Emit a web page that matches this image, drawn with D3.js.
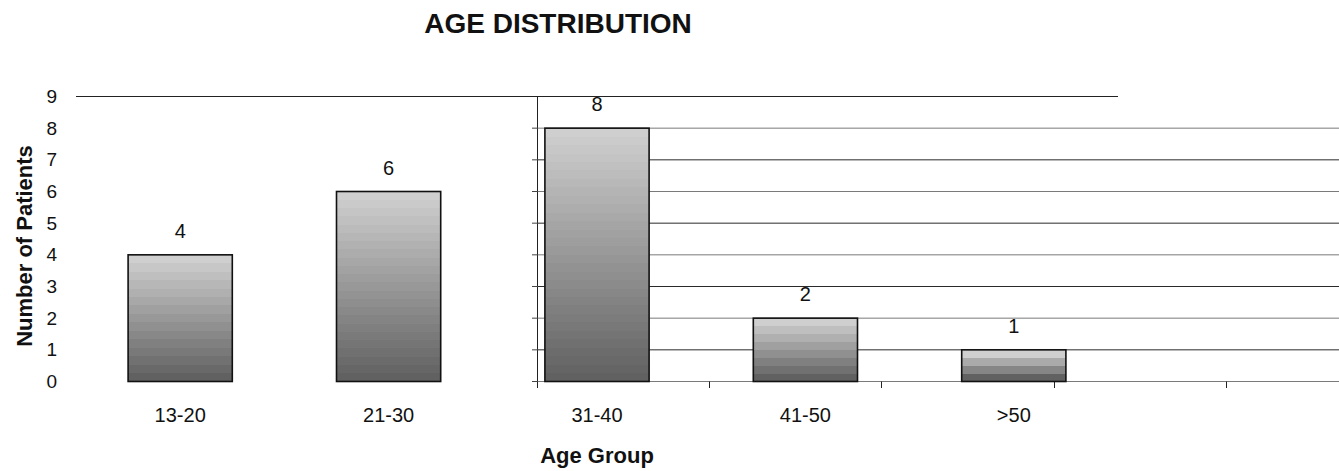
<!DOCTYPE html>
<html>
<head>
<meta charset="utf-8">
<script src="https://cdn.jsdelivr.net/npm/d3@7"></script>
<style>
  html, body { margin: 0; padding: 0; background: #fff; }
  svg { display: block; font-family: "Liberation Sans", Arial, Helvetica, sans-serif; }
</style>
</head>
<body>
<svg id="chart" width="1339" height="471"></svg>
<script>
// Age groups and patient counts
const categories = ["13-20", "21-30", "31-40", "41-50", ">50"];
const patients = [4, 6, 8, 2, 1];
const yTicks = [0, 1, 2, 3, 4, 5, 6, 7, 8, 9];
// Secondary value axis with its own category ticks
const gridValues = [0, 1, 2, 3, 4, 5, 6, 7, 8];
const gridSlots = [1, 2, 3, 4];

const W = 1339, H = 471;
const svg = d3.select("#chart");

const plot = { left: 76, right: 1118, top: 96.5, bottom: 381.5 };

const x = d3.scaleBand()
  .domain(categories)
  .range([plot.left, plot.right])
  .paddingInner(0.5)
  .paddingOuter(0.25);

const y = d3.scaleLinear()
  .domain([0, 9])
  .range([plot.bottom, plot.top]);

// Secondary axis: starts at the middle of the chart and runs to the edge
const gx0 = 538, gx1 = W;
const xs = d3.scaleLinear().domain([0, 4.652]).range([gx0, gx1]);

// Stepped grey gradient for each bar
const defs = svg.append("defs");
const shade = d3.interpolateRgb("#cfcfcf", "#616161");
patients.forEach((v, i) => {
  const h = y(0) - y(v);
  const n = Math.max(3, Math.round(h / 8.4));
  const g = defs.append("linearGradient")
    .attr("id", "barGrad" + i)
    .attr("x1", 0).attr("y1", 0).attr("x2", 0).attr("y2", 1);
  for (let k = 0; k < n; k++) {
    const c = shade(n === 1 ? 0 : k / (n - 1));
    g.append("stop").attr("offset", k / n).attr("stop-color", c);
    g.append("stop").attr("offset", (k + 1) / n).attr("stop-color", c);
  }
});

// Title
svg.append("text")
  .attr("x", 558).attr("y", 33)
  .attr("text-anchor", "middle")
  .attr("font-size", 28).attr("font-weight", "bold")
  .attr("fill", "#111")
  .text("AGE DISTRIBUTION");

// Top line of the plot area
svg.append("line")
  .attr("x1", plot.left).attr("x2", plot.right)
  .attr("y1", y(9)).attr("y2", y(9))
  .attr("stroke", "#222").attr("stroke-width", 1);

// Gridlines of the secondary axis
svg.append("g").selectAll("line")
  .data(gridValues)
  .join("line")
  .attr("x1", gx0).attr("x2", gx1)
  .attr("y1", d => y(d)).attr("y2", d => y(d))
  .attr("stroke", d => d % 2 === 1 ? "#2a2a2a" : "#7a7a7a")
  .attr("stroke-width", 1);

// Secondary vertical axis with ticks
const sAxis = svg.append("g");
sAxis.append("line")
  .attr("x1", gx0 - 0.5).attr("x2", gx0 - 0.5)
  .attr("y1", y(9)).attr("y2", y(0) + 6.5)
  .attr("stroke", "#222");
sAxis.selectAll("line.yt")
  .data(gridValues)
  .join("line").attr("class", "yt")
  .attr("x1", gx0 - 6).attr("x2", gx0)
  .attr("y1", d => y(d)).attr("y2", d => y(d))
  .attr("stroke", "#444");
sAxis.selectAll("line.xt")
  .data(gridSlots)
  .join("line").attr("class", "xt")
  .attr("x1", d => Math.round(xs(d)) - 0.5).attr("x2", d => Math.round(xs(d)) - 0.5)
  .attr("y1", y(0)).attr("y2", y(0) + 6.5)
  .attr("stroke", "#222");

// Y tick labels
const yAxis = d3.axisLeft(y).tickValues(yTicks).tickSize(0).tickPadding(3);
svg.append("g")
  .attr("transform", "translate(60,0)")
  .call(yAxis)
  .call(g => g.select(".domain").remove())
  .call(g => g.selectAll("text")
    .attr("font-size", 19)
    .attr("font-family", "\"Liberation Sans\", Arial, sans-serif")
    .attr("fill", "#111"));

// Bars
svg.append("g").selectAll("rect")
  .data(patients)
  .join("rect")
  .attr("x", (d, i) => x(categories[i]))
  .attr("y", d => y(d))
  .attr("width", x.bandwidth())
  .attr("height", d => y(0) - y(d))
  .attr("fill", (d, i) => `url(#barGrad${i})`)
  .attr("stroke", "#111")
  .attr("stroke-width", 1.6);

// Value labels
svg.append("g").selectAll("text")
  .data(patients)
  .join("text")
  .attr("x", (d, i) => x(categories[i]) + x.bandwidth() / 2)
  .attr("y", d => y(d) - 17)
  .attr("text-anchor", "middle")
  .attr("font-size", 20)
  .attr("fill", "#111")
  .text(d => d);

// Category labels
const xAxis = d3.axisBottom(x).tickSize(0).tickPadding(0);
svg.append("g")
  .attr("transform", `translate(0,${y(0)})`)
  .call(xAxis)
  .call(g => g.select(".domain").remove())
  .call(g => g.selectAll("text")
    .attr("font-size", 20)
    .attr("font-family", "\"Liberation Sans\", Arial, sans-serif")
    .attr("fill", "#111")
    .attr("dy", null)
    .attr("y", 40));

// Axis titles
svg.append("text")
  .attr("x", 597).attr("y", 463)
  .attr("text-anchor", "middle")
  .attr("font-size", 22).attr("font-weight", "bold")
  .attr("fill", "#111")
  .text("Age Group");

svg.append("text")
  .attr("transform", "translate(32,246) rotate(-90)")
  .attr("text-anchor", "middle")
  .attr("font-size", 22).attr("font-weight", "bold")
  .attr("fill", "#111")
  .text("Number of Patients");
</script>
</body>
</html>
